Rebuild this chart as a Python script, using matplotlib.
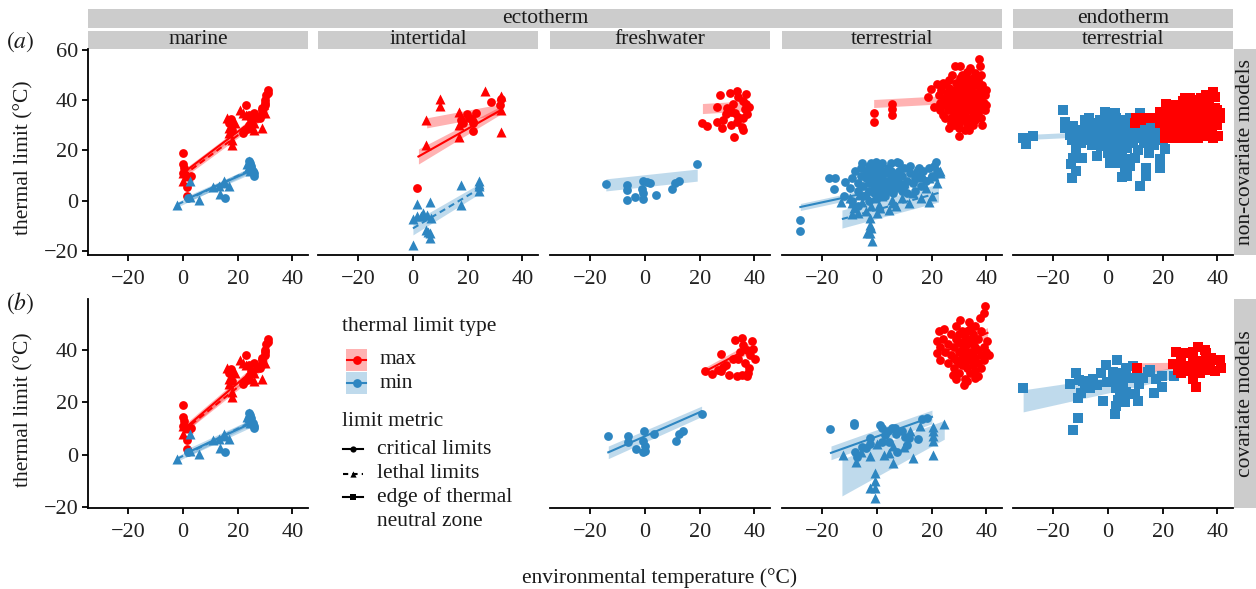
import numpy as np
import matplotlib
matplotlib.use('Agg')
import matplotlib.pyplot as plt
from matplotlib.patches import Rectangle

plt.rcParams['font.family'] = ['Liberation Serif', 'DejaVu Serif']
plt.rcParams['mathtext.fontset'] = 'stix'

RED = '#FF0000'
BLUE = '#2E86C1'

# ---------------- data (environmental temperature, thermal limit) ----------------
marine_max_crit = [(0, 19), (0, 14.5), (0.3, 13), (0, 11), (1, 10), (1.5, 5.5), (1.3, 2), (3, 10),
                   (17.5, 32.5), (17, 31), (18, 28), (23, 38), (22, 27), (22.5, 28), (24, 34), (25, 32),
                   (26, 35), (28, 33), (29, 36), (30, 38), (30, 40), (30.5, 42), (31, 44), (31, 43),
                   (30, 39), (29, 37), (27, 33), (24, 30)]
marine_max_leth = [(0, 8), (0, 11), (2, 10), (16, 33), (17, 27), (18, 24), (18, 22), (17, 29), (19, 31),
                   (22, 35), (23, 34), (25, 32), (25, 29), (26, 28), (26, 31), (29, 29), (30, 35), (28, 35),
                   (21, 36)]
marine_min_crit = [(2, 1), (15.5, 1), (24, 16), (25, 14), (25.5, 12), (26, 11), (26, 10), (25, 13), (24.5, 15)]
marine_min_leth = [(-2, -1.5), (2.5, 8), (2.5, 1.5), (6, 0.3), (11, 5.5), (13, 6), (13.5, 2.5), (15, 8),
                   (15, 7), (17, 6), (24, 14), (24, 16), (25, 13), (24.5, 12), (23.5, 14.5)]

inter_max_crit = [(1.5, 5), (19.6, 34.5), (23, 35), (28.4, 39.2), (32, 40.5), (21.8, 27.6), (18.3, 30.8),
                  (20.5, 33), (31.7, 38), (17.5, 32), (22, 31)]
inter_max_leth = [(26.2, 43.8), (9.8, 40.5), (9.8, 37.6), (4.9, 32), (4.9, 22.2), (32, 41.8), (32, 27.2),
                  (17, 35.3), (17, 25.5), (21.8, 33.5), (17, 30), (32, 36)]
inter_min_leth = [(0, -17.6), (0, -7.2), (1.5, -1.3), (1.5, -6.2), (3.7, -4.8), (6.1, -0.7), (6.7, -7),
                  (4.9, -11.7), (6.1, -15), (6.1, -13), (5.5, -12.5), (17.6, 6.3), (17.6, -1.6),
                  (24.1, 7.8), (24.1, 5.9), (24.1, 3.9), (24.1, 6.8), (3, -6), (5, -5.5)]

fresh_a_min_crit = [(-14.3, 6.7), (-6.7, 6.3), (-6.7, 4.2), (-6.7, 0.4), (-3.7, 1.6), (-1.2, 4.6),
                    (-0.6, 8), (0.6, 7.3), (1.8, 7.1), (-0.6, 3), (-0.8, 0.7), (4, 2.3), (9.9, 4.5),
                    (11, 7), (12.6, 8), (19.1, 14.8)]
fresh_a_max_crit = [(27.4, 42.2), (31, 42.9), (33.5, 43.7), (37, 42.4), (20.7, 30.9), (22.6, 29.8),
                    (26.2, 37.4), (26.2, 31.5), (28.6, 32.2), (28, 29), (31, 36.6), (31.6, 35.3),
                    (32.2, 38.6), (33.5, 31.5), (35.3, 29.3), (35.9, 28.2), (32.6, 25.3), (37.4, 34.6),
                    (38, 37.2), (35.9, 39.8), (34, 41.1), (36.5, 36.6), (29.8, 34.6), (31.6, 30.2),
                    (34, 33.5), (37, 38.6), (33, 35), (36, 33), (30, 37)]

terr_a_max_crit = [(-1.2, 34.8), (-1.2, 31.5), (5.5, 38.7), (5.5, 36.6), (5.5, 34), (18.5, 41.3), (20.7, 37.4),
                   (19.6, 44.6), (22, 46.5), (22.5, 42), (23, 39), (23.5, 44), (24, 47), (24.5, 41), (25, 46.5),
                   (25, 38), (25.5, 43), (26, 36), (26, 40), (26.5, 48), (26.5, 45), (27, 33), (27, 38),
                   (27.5, 42), (27.5, 50), (28, 35), (28, 44), (28.6, 53.7), (28.5, 40), (29, 31), (29, 37),
                   (29, 47), (29.5, 43), (29.9, 25.6), (30, 29), (30, 34), (30, 39), (30.4, 53.7), (30.5, 45),
                   (30.5, 49), (31, 32), (31, 36), (31, 41), (31.5, 43), (31.5, 47), (32, 28), (32, 34),
                   (32, 38), (32, 45), (32.5, 40), (32.8, 51.1), (33, 30), (33, 36), (33, 43), (33.5, 28.2),
                   (33.5, 47), (34, 33), (34, 39), (34, 41), (34.5, 45), (34.5, 36), (35, 30), (35, 38),
                   (35, 43), (35, 49), (35.5, 34), (36, 40), (36, 46), (36, 32), (36.5, 37), (36.5, 43),
                   (37, 35), (37, 39), (37, 48), (37.2, 56.3), (37.5, 44), (37.8, 53.7), (38, 33), (38, 41),
                   (38, 37), (38.5, 46), (38.5, 30), (39, 39), (39, 43), (39.5, 36), (39.5, 42), (40, 38),
                   (40, 44), (36, 51), (34, 53), (26.2, 28.9), (27, 31), (28, 30), (23, 36), (24, 34), (25, 33),
                   (28, 38), (29, 41), (30, 36), (31, 39), (32, 42), (33, 39), (34, 44), (35, 41), (36, 35),
                   (37, 42), (33, 33), (30, 31), (27, 36), (29, 33), (35, 46), (31, 50), (33, 49), (38, 50)]
terr_a_min_crit = [(-28, -7.7), (-28, -12), (-17.7, 8.9), (-15.2, 8.9), (-15.8, 4.6), (-11.5, 7.5), (-5.5, 15.2),
                   (7.3, 15.6), (21.7, 15.4), (15.2, 13.2), (-0.3, 15.4), (-12, 2), (-10, 5), (-9, 9), (-8, 12),
                   (-7, 4), (-7, 7), (-6, 10), (-6, 13), (-5, 2), (-5, 6), (-4, 9), (-4, 12), (-3, 0), (-3, 4),
                   (-3, 7), (-2, 10), (-2, 13), (-2, 15), (-1, 3), (-1, 6), (-1, 9), (-1, 12), (0, 1), (0, 5),
                   (0, 8), (0, 11), (0, 14), (1, 3), (1, 7), (1, 10), (1, 13), (2, 5), (2, 9), (2, 12), (2, 15),
                   (3, 2), (3, 7), (3, 11), (4, 4), (4, 8), (4, 13), (5, 6), (5, 10), (5, 12), (6, 3), (6, 8),
                   (6, 11), (7, 5), (7, 9), (8, 7), (8, 12), (9, 4), (9, 10), (10, 6), (10, 13), (11, 8),
                   (11, 3), (12, 11), (13, 7), (14, 9), (14, 4), (15, 10), (16, 6), (17, 12), (18, 8), (19, 13),
                   (20, 10), (21, 14), (22, 12), (-9, 0), (-7, -2), (12, 14), (5, 15), (-3, 14), (8, 15)]
terr_a_min_leth = [(-1.8, -16.2), (-2.4, -13), (-3.7, -13), (-2.4, -9.7), (-2.4, -7), (-13, -0.5), (-9.1, -5.1),
                   (4.3, -3.7), (11.7, -1), (19, -0.4), (23.1, 11.2), (15.3, 9.8), (5.5, 0.4), (0.6, -1.6),
                   (-5.5, -0.5), (-6.7, 2.2), (-8.5, -3), (19, 8.9), (-9, -1), (-4, -4), (-2, -2), (-1, 1),
                   (1, -3), (2, 2), (7, -2), (9, 1), (13, 3), (16, 1), (18, 5), (20, 2), (22, 7), (21, 10),
                   (-7, -5), (-4, 3), (3, 5), (10, 7), (14, 12), (17, 10), (23, 12), (-10, 1), (0, -5),
                   (-2, -11), (6, -1)]

endo_a_min_tnz = [(-29.9, 22.4), (-31.1, 25), (-27.4, 25.9), (-16.5, 36.1), (-15.8, 31.5), (-15.8, 29),
                  (-12.8, 29.6), (-8.5, 32.2), (-11.6, 20.4), (-12.8, 17.1), (-9.4, 16.9), (-13.4, 14.5),
                  (-11.6, 11.9), (-13, 8.9), (-1.2, 35.4), (2.5, 34.8), (0.6, 15.2), (3.7, 15.2), (5, 9.4),
                  (6.9, 10), (6.3, 12.5), (7.5, 16.5), (11.6, 6), (11.6, 34.8), (14, 13.1), (14, 9.8),
                  (18.9, 13.1), (18.9, 16.5), (20.7, 20.4), (22.6, 31.5), (-2.4, 21.6), (-3.7, 26.8),
                  (-14, 26), (-13, 24), (-12, 27), (-11, 25), (-10, 28), (-10, 23), (-9, 26), (-8, 24),
                  (-8, 29), (-7, 27), (-6, 25), (-6, 22), (-5, 28), (-5, 31), (-4, 24), (-3, 29), (-3, 32),
                  (-2, 27), (-2, 24), (-1, 30), (-1, 22), (0, 27), (0, 33), (0, 19), (1, 25), (1, 29), (1, 22),
                  (2, 31), (2, 27), (2, 18), (3, 24), (3, 33), (3, 21), (4, 28), (4, 26), (4, 31), (5, 23),
                  (5, 30), (5, 19), (6, 27), (6, 32), (7, 25), (7, 21), (8, 29), (8, 33), (9, 26), (9, 23),
                  (10, 31), (10, 28), (11, 25), (11, 20), (12, 30), (12, 27), (13, 33), (13, 23), (14, 28),
                  (15, 25), (15, 31), (16, 27), (17, 22), (17, 30), (18, 26), (19, 29), (20, 24), (21, 27),
                  (22, 25), (23, 30), (-7, 33), (10, 17), (15, 19), (-4, 18), (8, 14)]
endo_a_max_tnz = [(38.4, 43.3), (39, 41.3), (21.3, 38.7), (27.4, 39.9), (31.7, 40.2), (35.9, 39.9), (40.8, 34.8),
                  (40.2, 25.6), (38.4, 25), (35.3, 25.6), (26.2, 25), (29.8, 25), (33.5, 27), (18.9, 35.3),
                  (10.4, 32.8), (9.8, 31.1), (14, 32.8), (20.7, 27.6), (20, 33), (21, 30), (22, 36), (22, 32),
                  (23, 28), (23, 34), (24, 38), (24, 30), (25, 35), (25, 27), (26, 32), (26, 37), (27, 29),
                  (27, 34), (28, 38), (28, 31), (29, 26), (29, 35), (30, 33), (30, 28), (30, 38), (31, 36),
                  (31, 30), (32, 34), (32, 27), (33, 38), (33, 31), (34, 35), (34, 29), (35, 37), (35, 32),
                  (36, 34), (36, 28), (37, 38), (37, 31), (38, 35), (38, 29), (39, 37), (39, 32), (40, 36),
                  (40, 30), (41, 33), (24, 25), (28, 41), (34, 41), (36, 42), (30, 41), (33, 25), (21, 25),
                  (19, 31), (17, 33), (12, 32)]

fresh_b_min_crit = [(-13.6, 7.3), (-6.2, 7), (-6.2, 4.7), (-3.2, 2.2), (-0.2, 8.9), (-0.8, 5.4), (0, 3.5),
                    (-0.6, 1.1), (0, 1.4), (3.3, 7.9), (11.3, 5.4), (12.6, 7.9), (14, 8.9), (20.7, 15.4)]
fresh_b_max_crit = [(21.9, 31.9), (24.4, 30.6), (27.8, 38.3), (27.8, 31.9), (29.6, 34.2), (30.8, 30.4),
                    (32.9, 43.8), (35.3, 44.5), (39, 43.2), (33.5, 29.8), (35.3, 30.4), (37.2, 29.8),
                    (37.8, 31.1), (39.6, 40.4), (40.2, 36.5), (37.2, 39.8), (34.7, 39.1), (34.1, 36.5),
                    (32.3, 36.5), (36, 41.7), (38.4, 37.8), (28.4, 33.5), (26.6, 32.2), (36.5, 35), (38, 33)]

terr_b_min_crit = [(-17.1, 9.6), (-8.3, 12.2), (-8.3, 11.4), (-2.4, 6.2), (-2.4, 4.2), (1.2, 11.4), (1.8, 10.1),
                   (5.5, 10.1), (6.7, 10.1), (3, 7.6), (4.3, 5), (7.3, 0.9), (11, 3.8), (11.6, 6.4), (15, 5.8),
                   (16.4, 13.6), (18.2, 14), (-5.3, 2.9), (-4, 2.5), (-7.9, 0.9), (-7.3, -1), (10.3, 6.7),
                   (9.1, 9), (4, 9), (7, 8), (2, 5)]
terr_b_min_leth = [(-12.4, -0.1), (-7.7, -2.9), (-2.4, -0.4), (-0.6, -6.8), (-0.6, -10), (-2.4, -12.6),
                   (-0.6, -16.4), (-0.6, -12.5), (2.4, -0.2), (4.3, 0.6), (5.8, -3.2), (13.2, -1.4),
                   (20.4, -0.2), (20.4, 5.3), (20.4, 7.2), (20.4, 9.1), (20.4, 10.4), (24.4, 11.7),
                   (12.2, 8.9), (15.8, 10.8), (0, 4.2), (5.8, 3.5), (-6, 1), (10, 3)]
terr_b_max_crit = [(39.6, 56.7), (39, 54.1), (37.8, 52.1), (22.6, 47.1), (22, 43.2), (22, 38.7), (24.4, 47.7),
                   (31.7, 26.5), (36, 29.1), (27.8, 30.4), (41, 38.1), (40.4, 43.2), (30.5, 51.3), (33.5, 50.6),
                   (23, 41), (23, 36), (24, 44), (25, 39), (26, 35), (26, 42), (27, 46), (27, 38), (28, 33),
                   (28, 41), (29, 36), (29, 44), (29, 49), (30, 31), (30, 39), (30, 46), (31, 34), (31, 42),
                   (31, 37), (32, 29), (32, 40), (32, 45), (33, 33), (33, 38), (33, 47), (34, 31), (34, 36),
                   (34, 43), (35, 39), (35, 34), (35, 46), (36, 41), (36, 32), (36, 37), (37, 44), (37, 35),
                   (37, 40), (38, 38), (38, 33), (38, 47), (39, 41), (39, 36), (40, 39), (32, 35), (34, 48),
                   (28, 37), (31, 47), (36, 49), (30, 43), (35, 42), (33, 28), (37, 30), (29, 29),
                   (32, 37), (33, 42), (34, 39), (35, 36), (36, 44), (31, 40), (30, 35), (33, 44)]

endo_b_min_tnz = [(-31.1, 25.5), (-13.8, 26.8), (-11.6, 31.1), (-10.4, 28.5), (-9.1, 28.1), (-11, 21.7),
                  (-11, 14), (-12.8, 9.4), (-5.3, 28.8), (-4.1, 26.6), (-2.4, 31.1), (-6.5, 25.5), (-8.3, 25.3),
                  (-10, 23.6), (-0.8, 34.2), (-0.5, 27.8), (-1.9, 20.6), (3.4, 36.1), (1.8, 31.6), (3, 25.5),
                  (4.3, 24.6), (3.8, 20.8), (3, 18.6), (2.7, 15.5), (6.1, 20.1), (6.7, 24), (7.3, 29.1),
                  (9.1, 33.6), (9.1, 29.1), (11.2, 26.9), (10, 23.2), (11.1, 20.5), (12.8, 29.4), (15.2, 32.3),
                  (14.6, 31.4), (17.7, 28.8), (19.9, 30.1), (19.9, 25.8), (17, 23.5), (24.2, 29.8), (5.5, 28.5),
                  (4.9, 31.1), (6.7, 33.1), (1.8, 28.5), (5.5, 26)]
endo_b_max_tnz = [(10.7, 33), (25, 39.1), (23.7, 34.5), (26.7, 35.5), (28.6, 38.7), (31.1, 39.3), (33, 41.2),
                  (35.3, 40), (35.9, 38.7), (37.8, 36.8), (40.8, 36.2), (41.4, 33), (39, 31.7), (35.9, 32.3),
                  (33.5, 31.1), (31.1, 28.8), (32, 25.6), (26.7, 31.1), (29.2, 33), (32.2, 34.9), (34, 35.5),
                  (31.1, 35.5), (30, 32), (27.3, 33.6), (25.5, 32.3), (33.5, 33.6), (37.2, 34.9)]

# fitted model lines: (x_start, x_end, y_start, y_end, half-band start, half-band end, line style or None)
fits = {
    'marine': [('max', (0, 31, 11, 36.5, 1.2, 1.2, '-')), ('max', (0, 30, 10, 34, 1.0, 1.0, '--')),
               ('min', (1, 26, 0.5, 12.5, 1.2, 1.2, '-')), ('min', (-2, 25, -1.5, 12.5, 1.0, 1.0, '--'))],
    'intertidal': [('max', (2, 32, 17.6, 36, 3.0, 1.6, '-')), ('max', (5, 32, 31, 36.5, 2.0, 2.0, None)),
                   ('min', (0, 24, -11, 4.6, 2.6, 2.0, '--'))],
    'fresh_a': [('min', (-14.3, 19.1, 6.3, 10.2, 2.4, 2.4, None)), ('max', (21, 38, 36.7, 37.8, 2.0, 2.0, None))],
    'terr_a': [('max', (-1.2, 38, 38.7, 41, 1.6, 1.6, None)), ('min', (-28, 22.5, -2.5, 9.3, 1.4, 1.4, '-')),
               ('min', (-12.8, 22.5, -7.3, 3.1, 3.6, 3.6, '--'))],
    'endo_a': [('min', (-31, 22, 25.3, 28, 1.0, 1.0, None)), ('max', (10, 40, 32.5, 35, 1.2, 1.2, '-'))],
    'marine_b': [('max', (0, 31, 9.5, 37, 1.5, 1.5, '-')), ('max', (0, 30, 9, 34, 1.0, 1.0, '--')),
                 ('min', (1, 26, 0.5, 12.5, 1.5, 1.5, '-')), ('min', (-2, 25, -1.5, 12.5, 1.0, 1.0, '--'))],
    'fresh_b': [('min', (-13.4, 20.7, 0.9, 16.5, 2.4, 2.0, '-')), ('max', (21.9, 38, 31.7, 40.5, 1.5, 2.0, '-'))],
    'terr_b': [('min', (-16.8, 20.1, 0.7, 14.4, 2.6, 2.6, '-')), ('min', (-12.8, 24.6, -8.7, 9.5, 7.0, 3.6, None)),
               ('max', (25, 40.4, 39.4, 46.4, 2.0, 2.0, '-'))],
    'endo_b': [('min', (-31, 24, 20.5, 31.1, 4.2, 2.0, None)), ('max', (10.7, 24, 33, 34, 2.0, 1.2, None))],
}

col_labels = ['marine', 'intertidal', 'freshwater', 'terrestrial', 'terrestrial']
x_ticks = [-20, 0, 20, 40]

# ---------------- layout (pixels) ----------------
W, H = 1256, 589
fig = plt.figure(figsize=(W / 100, H / 100), dpi=100)
COL_X = [88, 318, 550, 782, 1013]
PW = 220
ROW_A = (49, 255)
ROW_B = (299, 508)
XLIM = (-34.7, 45.7)
YLIM_A = (-21.6, 60.4)
YLIM_B = (-20.3, 59.3)
FS = 15.5
FS_TICK = 16

overlay = fig.add_axes([0, 0, 1, 1])
overlay.set_xlim(0, W)
overlay.set_ylim(H, 0)
overlay.axis('off')

STRIP = '#CCCCCC'


def fmt(t):
    return ('\u2212%d' % -t) if t < 0 else str(t)


def make_ax(col, row):
    top, bot = row
    ax = fig.add_axes([COL_X[col] / W, 1 - bot / H, PW / W, (bot - top) / H])
    ax.patch.set_alpha(0)
    for s in ['top', 'right']:
        ax.spines[s].set_visible(False)
    ax.spines['bottom'].set_linewidth(1.3)
    ax.spines['left'].set_linewidth(1.3)
    ax.set_xlim(*XLIM)
    ax.set_xticks(x_ticks)
    ax.set_xticklabels([fmt(t) for t in x_ticks])
    ax.tick_params(axis='x', labelsize=FS_TICK, length=4, width=1.3, color='black', labelcolor='#222222', pad=7)
    ax.tick_params(axis='y', labelsize=FS_TICK, length=4, width=1.3, color='black', labelcolor='#222222', pad=3)
    if col != 0:
        ax.spines['left'].set_visible(False)
        ax.set_yticks([])
    return ax


def set_y(ax, ylim, ticks):
    ax.set_ylim(*ylim)
    if ax.spines['left'].get_visible():
        ax.set_yticks(ticks)
        ax.set_yticklabels([fmt(t) for t in ticks])


def pts(ax, data, color, marker, size):
    a = np.array(data)
    ax.scatter(a[:, 0], a[:, 1], s=size, c=color, marker=marker, linewidths=0, zorder=2)


def draw_fits(ax, key):
    for kind, f in fits[key]:
        color = RED if kind == 'max' else BLUE
        x0, x1, y0, y1, h0, h1, ls = f
        xs = np.linspace(x0, x1, 60)
        t = (xs - x0) / (x1 - x0)
        yc = y0 + (y1 - y0) * t
        hw = h0 + (h1 - h0) * t
        ax.fill_between(xs, yc - hw, yc + hw, color=color, alpha=0.3, lw=0, zorder=1)
        if ls == '--':
            ax.plot(xs, yc, color=color, lw=1.5, zorder=3, dashes=(3, 2))
        elif ls == '-':
            ax.plot(xs, yc, color=color, lw=1.5, zorder=3)


S_CIRC, S_TRI, S_SQ = 40, 52, 42

# Row a
ax = make_ax(0, ROW_A); set_y(ax, YLIM_A, [-20, 0, 20, 40, 60])
pts(ax, marine_max_crit, RED, 'o', S_CIRC); pts(ax, marine_max_leth, RED, '^', S_TRI)
pts(ax, marine_min_crit, BLUE, 'o', S_CIRC); pts(ax, marine_min_leth, BLUE, '^', S_TRI)
draw_fits(ax, 'marine')

ax = make_ax(1, ROW_A); set_y(ax, YLIM_A, [])
pts(ax, inter_max_crit, RED, 'o', S_CIRC); pts(ax, inter_max_leth, RED, '^', S_TRI)
pts(ax, inter_min_leth, BLUE, '^', S_TRI)
draw_fits(ax, 'intertidal')

ax = make_ax(2, ROW_A); set_y(ax, YLIM_A, [])
pts(ax, fresh_a_max_crit, RED, 'o', S_CIRC); pts(ax, fresh_a_min_crit, BLUE, 'o', S_CIRC)
draw_fits(ax, 'fresh_a')

ax = make_ax(3, ROW_A); set_y(ax, YLIM_A, [])
pts(ax, terr_a_max_crit, RED, 'o', S_CIRC); pts(ax, terr_a_min_crit, BLUE, 'o', S_CIRC)
pts(ax, terr_a_min_leth, BLUE, '^', S_TRI)
draw_fits(ax, 'terr_a')

ax = make_ax(4, ROW_A); set_y(ax, YLIM_A, [])
pts(ax, endo_a_min_tnz, BLUE, 's', S_SQ); pts(ax, endo_a_max_tnz, RED, 's', S_SQ)
draw_fits(ax, 'endo_a')

# Row b
ax = make_ax(0, ROW_B); set_y(ax, YLIM_B, [-20, 0, 20, 40])
pts(ax, marine_max_crit, RED, 'o', S_CIRC); pts(ax, marine_max_leth, RED, '^', S_TRI)
pts(ax, marine_min_crit, BLUE, 'o', S_CIRC); pts(ax, marine_min_leth, BLUE, '^', S_TRI)
draw_fits(ax, 'marine_b')

ax = make_ax(2, ROW_B); set_y(ax, YLIM_B, [])
pts(ax, fresh_b_max_crit, RED, 'o', S_CIRC); pts(ax, fresh_b_min_crit, BLUE, 'o', S_CIRC)
draw_fits(ax, 'fresh_b')

ax = make_ax(3, ROW_B); set_y(ax, YLIM_B, [])
pts(ax, terr_b_max_crit, RED, 'o', S_CIRC); pts(ax, terr_b_min_crit, BLUE, 'o', S_CIRC)
pts(ax, terr_b_min_leth, BLUE, '^', S_TRI)
draw_fits(ax, 'terr_b')

ax = make_ax(4, ROW_B); set_y(ax, YLIM_B, [])
pts(ax, endo_b_min_tnz, BLUE, 's', S_SQ); pts(ax, endo_b_max_tnz, RED, 's', S_SQ)
draw_fits(ax, 'endo_b')

# ---------------- strips ----------------
TXT = '#1a1a1a'
overlay.add_patch(Rectangle((88, 9), 1002 - 88, 19, color=STRIP, lw=0))
overlay.text((88 + 1002) / 2, 18.5, 'ectotherm', ha='center', va='center', fontsize=FS, color=TXT)
overlay.add_patch(Rectangle((1013, 9), PW, 19, color=STRIP, lw=0))
overlay.text(1013 + PW / 2, 18.5, 'endotherm', ha='center', va='center', fontsize=FS, color=TXT)
for x0, lab in zip(COL_X, col_labels):
    overlay.add_patch(Rectangle((x0, 31), PW, 18, color=STRIP, lw=0))
    overlay.text(x0 + PW / 2, 40, lab, ha='center', va='center', fontsize=FS, color=TXT)
for (top, bot), lab in zip([ROW_A, ROW_B], ['non-covariate models', 'covariate models']):
    overlay.add_patch(Rectangle((1234, top), 22, bot - top, color=STRIP, lw=0))
    overlay.text(1245, (top + bot) / 2, lab, ha='center', va='center', rotation=90, fontsize=FS, color=TXT)

# panel tags & axis labels
overlay.text(20, 42, r'$(a)$', ha='center', va='center', fontsize=17, color=TXT)
overlay.text(20, 303, r'$(b)$', ha='center', va='center', fontsize=17, color=TXT)
overlay.text(24, 158, 'thermal limit (\u00b0C)', ha='center', va='center', rotation=90, fontsize=FS, color=TXT)
overlay.text(24, 410, 'thermal limit (\u00b0C)', ha='center', va='center', rotation=90, fontsize=FS, color=TXT)
overlay.text(660, 578, 'environmental temperature (\u00b0C)', ha='center', va='center', fontsize=FS, color=TXT)

# ---------------- legend ----------------
overlay.text(342, 326, 'thermal limit type', ha='left', va='center', fontsize=FS, color=TXT)
for yc, col, lab in [(360, RED, 'max'), (383, BLUE, 'min')]:
    overlay.add_patch(Rectangle((346, yc - 11), 21, 22, color=col, alpha=0.3, lw=0))
    overlay.plot([347, 366], [yc, yc], color=col, lw=1.5)
    overlay.scatter([356.5], [yc], s=S_CIRC, c=col, marker='o', linewidths=0, zorder=3)
    overlay.text(380, yc, lab, ha='left', va='center', fontsize=FS, color=TXT)
overlay.text(342, 421, 'limit metric', ha='left', va='center', fontsize=FS, color=TXT)
for yc, mk, lab, dash in [(449, 'o', 'critical limits', False), (474, '^', 'lethal limits', True),
                          (497, 's', 'edge of thermal', False)]:
    if dash:
        overlay.plot([343, 363], [yc, yc], color='black', lw=1.5, dashes=(2.5, 2))
    else:
        overlay.plot([343, 363], [yc, yc], color='black', lw=1.5)
    overlay.scatter([353], [yc], s=20, c='black', marker=mk, linewidths=0, zorder=3)
    overlay.text(377, yc, lab, ha='left', va='center', fontsize=FS, color=TXT)
overlay.text(377, 521, 'neutral zone', ha='left', va='center', fontsize=FS, color=TXT)

fig.savefig('out.png', dpi=100)
